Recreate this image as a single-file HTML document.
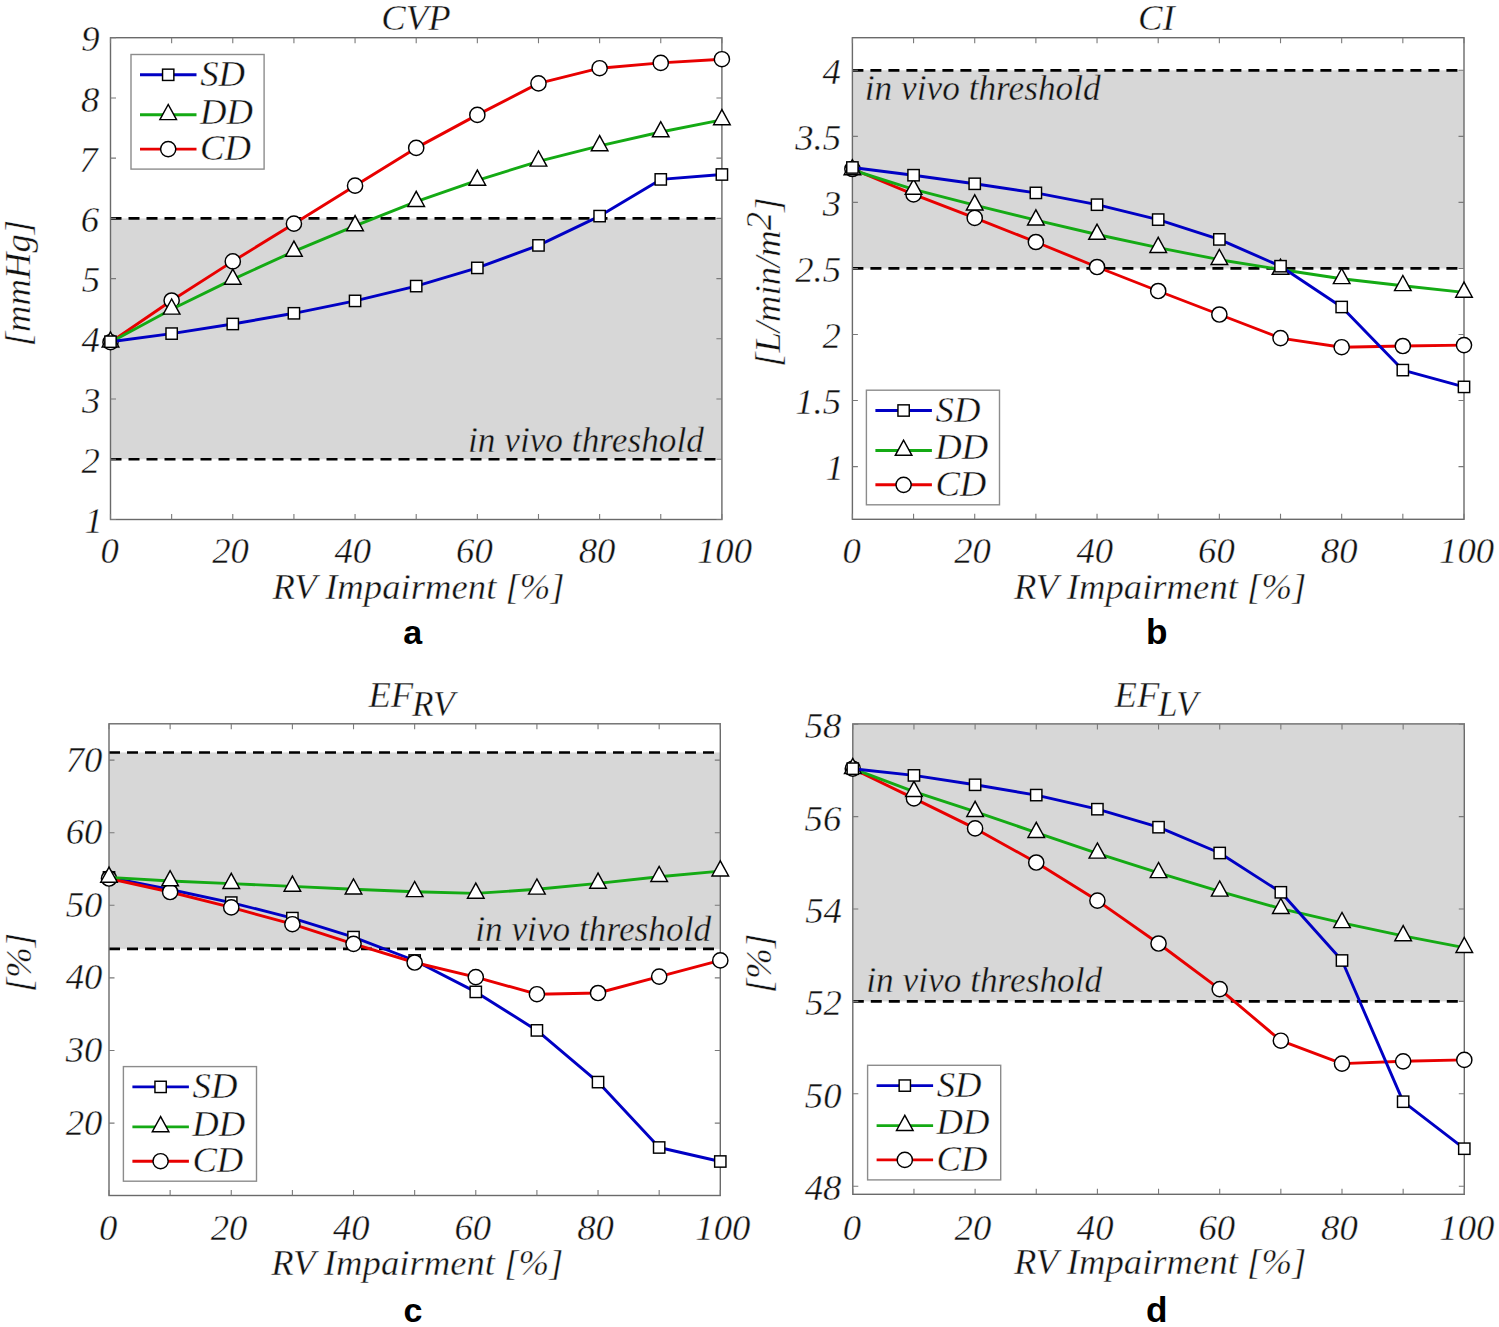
<!DOCTYPE html><html><head><meta charset="utf-8"><style>
html,body{margin:0;padding:0;background:#fff;overflow:hidden;}
svg{display:block;}
text{font-family:"Liberation Serif",serif;font-style:italic;fill:#111;stroke:#fff;stroke-width:0.4px;}
text.g{stroke:#d7d7d7;}
.sub{font-family:"Liberation Sans",sans-serif;font-style:normal;font-weight:bold;fill:#000;stroke:none;}
.mk{fill:#fff;stroke:#000;stroke-width:1.45;}
</style></head><body>
<svg width="1499" height="1327" viewBox="0 0 1499 1327">
<rect width="1499" height="1327" fill="#fff"/>
<rect x="110.5" y="218.38" width="611.4" height="240.9" fill="#d7d7d7"/>
<line x1="110.5" y1="218.38" x2="721.9" y2="218.38" stroke="#000" stroke-width="2.7" stroke-dasharray="11 7"/>
<line x1="110.5" y1="459.27" x2="721.9" y2="459.27" stroke="#000" stroke-width="2.7" stroke-dasharray="11 7"/>
<rect x="110.5" y="37.7" width="611.4" height="481.8" fill="none" stroke="#6a6a6a" stroke-width="1.4"/>
<path d="M110.5 519.5v-5.5M110.5 37.7v5.5M171.64 519.5v-5.5M171.64 37.7v5.5M232.78 519.5v-5.5M232.78 37.7v5.5M293.92 519.5v-5.5M293.92 37.7v5.5M355.06 519.5v-5.5M355.06 37.7v5.5M416.2 519.5v-5.5M416.2 37.7v5.5M477.34 519.5v-5.5M477.34 37.7v5.5M538.48 519.5v-5.5M538.48 37.7v5.5M599.62 519.5v-5.5M599.62 37.7v5.5M660.76 519.5v-5.5M660.76 37.7v5.5M721.9 519.5v-5.5M721.9 37.7v5.5M110.5 519.5h5.5M721.9 519.5h-5.5M110.5 459.27h5.5M721.9 459.27h-5.5M110.5 399.05h5.5M721.9 399.05h-5.5M110.5 338.82h5.5M721.9 338.82h-5.5M110.5 278.6h5.5M721.9 278.6h-5.5M110.5 218.38h5.5M721.9 218.38h-5.5M110.5 158.15h5.5M721.9 158.15h-5.5M110.5 97.93h5.5M721.9 97.93h-5.5M110.5 37.7h5.5M721.9 37.7h-5.5" stroke="#7a7a7a" stroke-width="1.1" fill="none"/>
<text x="84.6" y="533.21" font-size="36.7">1</text>
<text x="81.48" y="473.03" font-size="36.7">2</text>
<text x="81.93" y="412.62" font-size="36.7">3</text>
<text x="81.48" y="352.49" font-size="36.7">4</text>
<text x="81.75" y="292.04" font-size="36.7">5</text>
<text x="80.83" y="231.95" font-size="36.7">6</text>
<text x="79.37" y="171.77" font-size="36.7">7</text>
<text x="81.02" y="111.54" font-size="36.7">8</text>
<text x="81.2" y="51.27" font-size="36.7">9</text>
<text x="100.57" y="563.3" font-size="36.7">0</text>
<text x="212.26" y="563.3" font-size="36.7">20</text>
<text x="334.49" y="563.3" font-size="36.7">40</text>
<text x="456.09" y="563.3" font-size="36.7">60</text>
<text x="578.73" y="563.3" font-size="36.7">80</text>
<text x="696.96" y="563.3" font-size="36.7">100</text>
<polyline points="110.5,342.2 171.64,300.5 232.78,261.4 293.92,223.7 355.06,185.7 416.2,147.9 477.34,114.9 538.48,83.4 599.62,68.2 660.76,62.9 721.9,59.2" fill="none" stroke="#e80000" stroke-width="2.9" stroke-linejoin="round"/>
<circle cx="110.5" cy="342.2" r="7.6" class="mk"/>
<circle cx="171.64" cy="300.5" r="7.6" class="mk"/>
<circle cx="232.78" cy="261.4" r="7.6" class="mk"/>
<circle cx="293.92" cy="223.7" r="7.6" class="mk"/>
<circle cx="355.06" cy="185.7" r="7.6" class="mk"/>
<circle cx="416.2" cy="147.9" r="7.6" class="mk"/>
<circle cx="477.34" cy="114.9" r="7.6" class="mk"/>
<circle cx="538.48" cy="83.4" r="7.6" class="mk"/>
<circle cx="599.62" cy="68.2" r="7.6" class="mk"/>
<circle cx="660.76" cy="62.9" r="7.6" class="mk"/>
<circle cx="721.9" cy="59.2" r="7.6" class="mk"/>
<polyline points="110.5,342.2 171.64,309.3 232.78,279.4 293.92,251.4 355.06,225.9 416.2,201.6 477.34,180.4 538.48,161.3 599.62,145.9 660.76,132 721.9,119.9" fill="none" stroke="#14aa14" stroke-width="2.9" stroke-linejoin="round"/>
<polygon points="110.5,331.9 102.2,347 118.8,347" class="mk"/>
<polygon points="171.64,299 163.34,314.1 179.94,314.1" class="mk"/>
<polygon points="232.78,269.1 224.48,284.2 241.08,284.2" class="mk"/>
<polygon points="293.92,241.1 285.62,256.2 302.22,256.2" class="mk"/>
<polygon points="355.06,215.6 346.76,230.7 363.36,230.7" class="mk"/>
<polygon points="416.2,191.3 407.9,206.4 424.5,206.4" class="mk"/>
<polygon points="477.34,170.1 469.04,185.2 485.64,185.2" class="mk"/>
<polygon points="538.48,151 530.18,166.1 546.78,166.1" class="mk"/>
<polygon points="599.62,135.6 591.32,150.7 607.92,150.7" class="mk"/>
<polygon points="660.76,121.7 652.46,136.8 669.06,136.8" class="mk"/>
<polygon points="721.9,109.6 713.6,124.7 730.2,124.7" class="mk"/>
<polyline points="110.5,341.7 171.64,333.6 232.78,324 293.92,313.3 355.06,300.9 416.2,286.1 477.34,267.9 538.48,245.4 599.62,216.1 660.76,179.4 721.9,174.5" fill="none" stroke="#0000c4" stroke-width="2.9" stroke-linejoin="round"/>
<rect x="104.85" y="336.05" width="11.3" height="11.3" class="mk"/>
<rect x="165.99" y="327.95" width="11.3" height="11.3" class="mk"/>
<rect x="227.13" y="318.35" width="11.3" height="11.3" class="mk"/>
<rect x="288.27" y="307.65" width="11.3" height="11.3" class="mk"/>
<rect x="349.41" y="295.25" width="11.3" height="11.3" class="mk"/>
<rect x="410.55" y="280.45" width="11.3" height="11.3" class="mk"/>
<rect x="471.69" y="262.25" width="11.3" height="11.3" class="mk"/>
<rect x="532.83" y="239.75" width="11.3" height="11.3" class="mk"/>
<rect x="593.97" y="210.45" width="11.3" height="11.3" class="mk"/>
<rect x="655.11" y="173.75" width="11.3" height="11.3" class="mk"/>
<rect x="716.25" y="168.85" width="11.3" height="11.3" class="mk"/>
<rect x="852.4" y="70.3" width="611.6" height="198.15" fill="#d7d7d7"/>
<line x1="852.4" y1="70.3" x2="1464" y2="70.3" stroke="#000" stroke-width="2.7" stroke-dasharray="11 7"/>
<line x1="852.4" y1="268.45" x2="1464" y2="268.45" stroke="#000" stroke-width="2.7" stroke-dasharray="11 7"/>
<rect x="852.4" y="37.7" width="611.6" height="481.6" fill="none" stroke="#6a6a6a" stroke-width="1.4"/>
<path d="M852.4 519.3v-5.5M852.4 37.7v5.5M913.56 519.3v-5.5M913.56 37.7v5.5M974.72 519.3v-5.5M974.72 37.7v5.5M1035.88 519.3v-5.5M1035.88 37.7v5.5M1097.04 519.3v-5.5M1097.04 37.7v5.5M1158.2 519.3v-5.5M1158.2 37.7v5.5M1219.36 519.3v-5.5M1219.36 37.7v5.5M1280.52 519.3v-5.5M1280.52 37.7v5.5M1341.68 519.3v-5.5M1341.68 37.7v5.5M1402.84 519.3v-5.5M1402.84 37.7v5.5M1464 519.3v-5.5M1464 37.7v5.5M852.4 466.6h5.5M1464 466.6h-5.5M852.4 400.55h5.5M1464 400.55h-5.5M852.4 334.5h5.5M1464 334.5h-5.5M852.4 268.45h5.5M1464 268.45h-5.5M852.4 202.4h5.5M1464 202.4h-5.5M852.4 136.35h5.5M1464 136.35h-5.5M852.4 70.3h5.5M1464 70.3h-5.5" stroke="#7a7a7a" stroke-width="1.1" fill="none"/>
<text x="825.5" y="480.31" font-size="36.7">1</text>
<text x="795.13" y="413.99" font-size="36.7">1.5</text>
<text x="822.38" y="348.26" font-size="36.7">2</text>
<text x="795.13" y="281.93" font-size="36.7">2.5</text>
<text x="822.83" y="215.97" font-size="36.7">3</text>
<text x="795.13" y="149.83" font-size="36.7">3.5</text>
<text x="822.38" y="83.97" font-size="36.7">4</text>
<text x="842.47" y="563.3" font-size="36.7">0</text>
<text x="954.2" y="563.3" font-size="36.7">20</text>
<text x="1076.47" y="563.3" font-size="36.7">40</text>
<text x="1198.11" y="563.3" font-size="36.7">60</text>
<text x="1320.79" y="563.3" font-size="36.7">80</text>
<text x="1439.06" y="563.3" font-size="36.7">100</text>
<polyline points="852.4,169 913.56,194.4 974.72,217.9 1035.88,242 1097.04,267 1158.2,291 1219.36,314.5 1280.52,338.1 1341.68,347.2 1402.84,346 1464,345.1" fill="none" stroke="#e80000" stroke-width="2.9" stroke-linejoin="round"/>
<circle cx="852.4" cy="169" r="7.6" class="mk"/>
<circle cx="913.56" cy="194.4" r="7.6" class="mk"/>
<circle cx="974.72" cy="217.9" r="7.6" class="mk"/>
<circle cx="1035.88" cy="242" r="7.6" class="mk"/>
<circle cx="1097.04" cy="267" r="7.6" class="mk"/>
<circle cx="1158.2" cy="291" r="7.6" class="mk"/>
<circle cx="1219.36" cy="314.5" r="7.6" class="mk"/>
<circle cx="1280.52" cy="338.1" r="7.6" class="mk"/>
<circle cx="1341.68" cy="347.2" r="7.6" class="mk"/>
<circle cx="1402.84" cy="346" r="7.6" class="mk"/>
<circle cx="1464" cy="345.1" r="7.6" class="mk"/>
<polyline points="852.4,170 913.56,189.4 974.72,205.1 1035.88,220.1 1097.04,234.5 1158.2,247.6 1219.36,259.7 1280.52,269.5 1341.68,278.8 1402.84,285.8 1464,292.4" fill="none" stroke="#14aa14" stroke-width="2.9" stroke-linejoin="round"/>
<polygon points="852.4,159.7 844.1,174.8 860.7,174.8" class="mk"/>
<polygon points="913.56,179.1 905.26,194.2 921.86,194.2" class="mk"/>
<polygon points="974.72,194.8 966.42,209.9 983.02,209.9" class="mk"/>
<polygon points="1035.88,209.8 1027.58,224.9 1044.18,224.9" class="mk"/>
<polygon points="1097.04,224.2 1088.74,239.3 1105.34,239.3" class="mk"/>
<polygon points="1158.2,237.3 1149.9,252.4 1166.5,252.4" class="mk"/>
<polygon points="1219.36,249.4 1211.06,264.5 1227.66,264.5" class="mk"/>
<polygon points="1280.52,259.2 1272.22,274.3 1288.82,274.3" class="mk"/>
<polygon points="1341.68,268.5 1333.38,283.6 1349.98,283.6" class="mk"/>
<polygon points="1402.84,275.5 1394.54,290.6 1411.14,290.6" class="mk"/>
<polygon points="1464,282.1 1455.7,297.2 1472.3,297.2" class="mk"/>
<polyline points="852.4,167.5 913.56,175.2 974.72,183.8 1035.88,192.9 1097.04,204.7 1158.2,219.6 1219.36,239.4 1280.52,266.2 1341.68,307 1402.84,370.1 1464,386.9" fill="none" stroke="#0000c4" stroke-width="2.9" stroke-linejoin="round"/>
<rect x="846.75" y="161.85" width="11.3" height="11.3" class="mk"/>
<rect x="907.91" y="169.55" width="11.3" height="11.3" class="mk"/>
<rect x="969.07" y="178.15" width="11.3" height="11.3" class="mk"/>
<rect x="1030.23" y="187.25" width="11.3" height="11.3" class="mk"/>
<rect x="1091.39" y="199.05" width="11.3" height="11.3" class="mk"/>
<rect x="1152.55" y="213.95" width="11.3" height="11.3" class="mk"/>
<rect x="1213.71" y="233.75" width="11.3" height="11.3" class="mk"/>
<rect x="1274.87" y="260.55" width="11.3" height="11.3" class="mk"/>
<rect x="1336.03" y="301.35" width="11.3" height="11.3" class="mk"/>
<rect x="1397.19" y="364.45" width="11.3" height="11.3" class="mk"/>
<rect x="1458.35" y="381.25" width="11.3" height="11.3" class="mk"/>
<rect x="109" y="752.48" width="611.3" height="196.38" fill="#d7d7d7"/>
<line x1="109" y1="752.48" x2="720.3" y2="752.48" stroke="#000" stroke-width="2.7" stroke-dasharray="11 7"/>
<line x1="109" y1="948.86" x2="720.3" y2="948.86" stroke="#000" stroke-width="2.7" stroke-dasharray="11 7"/>
<rect x="109" y="723.8" width="611.3" height="471.7" fill="none" stroke="#6a6a6a" stroke-width="1.4"/>
<path d="M109 1195.5v-5.5M109 723.8v5.5M170.13 1195.5v-5.5M170.13 723.8v5.5M231.26 1195.5v-5.5M231.26 723.8v5.5M292.39 1195.5v-5.5M292.39 723.8v5.5M353.52 1195.5v-5.5M353.52 723.8v5.5M414.65 1195.5v-5.5M414.65 723.8v5.5M475.78 1195.5v-5.5M475.78 723.8v5.5M536.91 1195.5v-5.5M536.91 723.8v5.5M598.04 1195.5v-5.5M598.04 723.8v5.5M659.17 1195.5v-5.5M659.17 723.8v5.5M720.3 1195.5v-5.5M720.3 723.8v5.5M109 1123.1h5.5M720.3 1123.1h-5.5M109 1050.5h5.5M720.3 1050.5h-5.5M109 977.9h5.5M720.3 977.9h-5.5M109 905.3h5.5M720.3 905.3h-5.5M109 832.7h5.5M720.3 832.7h-5.5M109 760.1h5.5M720.3 760.1h-5.5" stroke="#7a7a7a" stroke-width="1.1" fill="none"/>
<text x="65.76" y="1134.62" font-size="36.7">20</text>
<text x="65.76" y="1062.02" font-size="36.7">30</text>
<text x="65.76" y="989.42" font-size="36.7">40</text>
<text x="65.76" y="916.82" font-size="36.7">50</text>
<text x="65.76" y="844.22" font-size="36.7">60</text>
<text x="65.76" y="771.62" font-size="36.7">70</text>
<text x="99.07" y="1239.8" font-size="36.7">0</text>
<text x="210.74" y="1239.8" font-size="36.7">20</text>
<text x="332.95" y="1239.8" font-size="36.7">40</text>
<text x="454.53" y="1239.8" font-size="36.7">60</text>
<text x="577.15" y="1239.8" font-size="36.7">80</text>
<text x="695.36" y="1239.8" font-size="36.7">100</text>
<polyline points="109,877.4 170.13,889.5 231.26,902.6 292.39,918.1 353.52,937.1 414.65,960.5 475.78,991.9 536.91,1030.4 598.04,1082.1 659.17,1147.5 720.3,1161.5" fill="none" stroke="#0000c4" stroke-width="2.9" stroke-linejoin="round"/>
<rect x="103.35" y="871.75" width="11.3" height="11.3" class="mk"/>
<rect x="164.48" y="883.85" width="11.3" height="11.3" class="mk"/>
<rect x="225.61" y="896.95" width="11.3" height="11.3" class="mk"/>
<rect x="286.74" y="912.45" width="11.3" height="11.3" class="mk"/>
<rect x="347.87" y="931.45" width="11.3" height="11.3" class="mk"/>
<rect x="409" y="954.85" width="11.3" height="11.3" class="mk"/>
<rect x="470.13" y="986.25" width="11.3" height="11.3" class="mk"/>
<rect x="531.26" y="1024.75" width="11.3" height="11.3" class="mk"/>
<rect x="592.39" y="1076.45" width="11.3" height="11.3" class="mk"/>
<rect x="653.52" y="1141.85" width="11.3" height="11.3" class="mk"/>
<rect x="714.65" y="1155.85" width="11.3" height="11.3" class="mk"/>
<polyline points="109,878.5 170.13,892 231.26,907.4 292.39,924.2 353.52,943.8 414.65,962.5 475.78,977.1 536.91,994.2 598.04,993 659.17,976.6 720.3,960.4" fill="none" stroke="#e80000" stroke-width="2.9" stroke-linejoin="round"/>
<circle cx="109" cy="878.5" r="7.6" class="mk"/>
<circle cx="170.13" cy="892" r="7.6" class="mk"/>
<circle cx="231.26" cy="907.4" r="7.6" class="mk"/>
<circle cx="292.39" cy="924.2" r="7.6" class="mk"/>
<circle cx="353.52" cy="943.8" r="7.6" class="mk"/>
<circle cx="414.65" cy="962.5" r="7.6" class="mk"/>
<circle cx="475.78" cy="977.1" r="7.6" class="mk"/>
<circle cx="536.91" cy="994.2" r="7.6" class="mk"/>
<circle cx="598.04" cy="993" r="7.6" class="mk"/>
<circle cx="659.17" cy="976.6" r="7.6" class="mk"/>
<circle cx="720.3" cy="960.4" r="7.6" class="mk"/>
<polyline points="109,877.4 170.13,881 231.26,883.6 292.39,886.4 353.52,889.2 414.65,891.8 475.78,893.4 536.91,889.3 598.04,883.4 659.17,876.7 720.3,871.1" fill="none" stroke="#14aa14" stroke-width="2.9" stroke-linejoin="round"/>
<polygon points="109,867.1 100.7,882.2 117.3,882.2" class="mk"/>
<polygon points="170.13,870.7 161.83,885.8 178.43,885.8" class="mk"/>
<polygon points="231.26,873.3 222.96,888.4 239.56,888.4" class="mk"/>
<polygon points="292.39,876.1 284.09,891.2 300.69,891.2" class="mk"/>
<polygon points="353.52,878.9 345.22,894 361.82,894" class="mk"/>
<polygon points="414.65,881.5 406.35,896.6 422.95,896.6" class="mk"/>
<polygon points="475.78,883.1 467.48,898.2 484.08,898.2" class="mk"/>
<polygon points="536.91,879 528.61,894.1 545.21,894.1" class="mk"/>
<polygon points="598.04,873.1 589.74,888.2 606.34,888.2" class="mk"/>
<polygon points="659.17,866.4 650.87,881.5 667.47,881.5" class="mk"/>
<polygon points="720.3,860.8 712,875.9 728.6,875.9" class="mk"/>
<rect x="852.8" y="724.2" width="611.5" height="277.2" fill="#d7d7d7"/>
<line x1="852.8" y1="1001.4" x2="1464.3" y2="1001.4" stroke="#000" stroke-width="2.7" stroke-dasharray="11 7"/>
<rect x="852.8" y="723.9" width="611.5" height="470.4" fill="none" stroke="#6a6a6a" stroke-width="1.4"/>
<path d="M852.8 1194.3v-5.5M852.8 723.9v5.5M913.95 1194.3v-5.5M913.95 723.9v5.5M975.1 1194.3v-5.5M975.1 723.9v5.5M1036.25 1194.3v-5.5M1036.25 723.9v5.5M1097.4 1194.3v-5.5M1097.4 723.9v5.5M1158.55 1194.3v-5.5M1158.55 723.9v5.5M1219.7 1194.3v-5.5M1219.7 723.9v5.5M1280.85 1194.3v-5.5M1280.85 723.9v5.5M1342 1194.3v-5.5M1342 723.9v5.5M1403.15 1194.3v-5.5M1403.15 723.9v5.5M1464.3 1194.3v-5.5M1464.3 723.9v5.5M852.8 1186.2h5.5M1464.3 1186.2h-5.5M852.8 1093.8h5.5M1464.3 1093.8h-5.5M852.8 1001.4h5.5M1464.3 1001.4h-5.5M852.8 909h5.5M1464.3 909h-5.5M852.8 816.6h5.5M1464.3 816.6h-5.5M852.8 724.2h5.5M1464.3 724.2h-5.5" stroke="#7a7a7a" stroke-width="1.1" fill="none"/>
<text x="804.77" y="1200.32" font-size="36.7">48</text>
<text x="804.86" y="1107.92" font-size="36.7">50</text>
<text x="805.23" y="1015.47" font-size="36.7">52</text>
<text x="805.23" y="922.98" font-size="36.7">54</text>
<text x="804.58" y="830.67" font-size="36.7">56</text>
<text x="804.77" y="738.32" font-size="36.7">58</text>
<text x="842.87" y="1239.8" font-size="36.7">0</text>
<text x="954.58" y="1239.8" font-size="36.7">20</text>
<text x="1076.83" y="1239.8" font-size="36.7">40</text>
<text x="1198.45" y="1239.8" font-size="36.7">60</text>
<text x="1321.11" y="1239.8" font-size="36.7">80</text>
<text x="1439.36" y="1239.8" font-size="36.7">100</text>
<polyline points="852.8,768.7 913.95,798.4 975.1,828.4 1036.25,862.5 1097.4,900.6 1158.55,943.5 1219.7,989.1 1280.85,1040.7 1342,1063.6 1403.15,1061.3 1464.3,1059.9" fill="none" stroke="#e80000" stroke-width="2.9" stroke-linejoin="round"/>
<circle cx="852.8" cy="768.7" r="7.6" class="mk"/>
<circle cx="913.95" cy="798.4" r="7.6" class="mk"/>
<circle cx="975.1" cy="828.4" r="7.6" class="mk"/>
<circle cx="1036.25" cy="862.5" r="7.6" class="mk"/>
<circle cx="1097.4" cy="900.6" r="7.6" class="mk"/>
<circle cx="1158.55" cy="943.5" r="7.6" class="mk"/>
<circle cx="1219.7" cy="989.1" r="7.6" class="mk"/>
<circle cx="1280.85" cy="1040.7" r="7.6" class="mk"/>
<circle cx="1342" cy="1063.6" r="7.6" class="mk"/>
<circle cx="1403.15" cy="1061.3" r="7.6" class="mk"/>
<circle cx="1464.3" cy="1059.9" r="7.6" class="mk"/>
<polyline points="852.8,768.7 913.95,791.6 975.1,811.6 1036.25,832.6 1097.4,853.3 1158.55,872.8 1219.7,891.3 1280.85,908.7 1342,922.8 1403.15,935.9 1464.3,947.7" fill="none" stroke="#14aa14" stroke-width="2.9" stroke-linejoin="round"/>
<polygon points="852.8,758.4 844.5,773.5 861.1,773.5" class="mk"/>
<polygon points="913.95,781.3 905.65,796.4 922.25,796.4" class="mk"/>
<polygon points="975.1,801.3 966.8,816.4 983.4,816.4" class="mk"/>
<polygon points="1036.25,822.3 1027.95,837.4 1044.55,837.4" class="mk"/>
<polygon points="1097.4,843 1089.1,858.1 1105.7,858.1" class="mk"/>
<polygon points="1158.55,862.5 1150.25,877.6 1166.85,877.6" class="mk"/>
<polygon points="1219.7,881 1211.4,896.1 1228,896.1" class="mk"/>
<polygon points="1280.85,898.4 1272.55,913.5 1289.15,913.5" class="mk"/>
<polygon points="1342,912.5 1333.7,927.6 1350.3,927.6" class="mk"/>
<polygon points="1403.15,925.6 1394.85,940.7 1411.45,940.7" class="mk"/>
<polygon points="1464.3,937.4 1456,952.5 1472.6,952.5" class="mk"/>
<polyline points="852.8,768.7 913.95,775.4 975.1,784.8 1036.25,795.1 1097.4,809.2 1158.55,827.2 1219.7,853 1280.85,892.3 1342,960.5 1403.15,1101.7 1464.3,1148.7" fill="none" stroke="#0000c4" stroke-width="2.9" stroke-linejoin="round"/>
<rect x="847.15" y="763.05" width="11.3" height="11.3" class="mk"/>
<rect x="908.3" y="769.75" width="11.3" height="11.3" class="mk"/>
<rect x="969.45" y="779.15" width="11.3" height="11.3" class="mk"/>
<rect x="1030.6" y="789.45" width="11.3" height="11.3" class="mk"/>
<rect x="1091.75" y="803.55" width="11.3" height="11.3" class="mk"/>
<rect x="1152.9" y="821.55" width="11.3" height="11.3" class="mk"/>
<rect x="1214.05" y="847.35" width="11.3" height="11.3" class="mk"/>
<rect x="1275.2" y="886.65" width="11.3" height="11.3" class="mk"/>
<rect x="1336.35" y="954.85" width="11.3" height="11.3" class="mk"/>
<rect x="1397.5" y="1096.05" width="11.3" height="11.3" class="mk"/>
<rect x="1458.65" y="1143.05" width="11.3" height="11.3" class="mk"/>
<text x="381.28" y="29.7" font-size="36.7">CVP</text>
<text x="1137.98" y="29.6" font-size="36.7">CI</text>
<text x="368.46" y="706.9" font-size="36.7">EF</text>
<text x="412.08" y="715.8" font-size="35.3">RV</text>
<text x="1114.56" y="706.9" font-size="36.7">EF</text>
<text x="1157.94" y="715.8" font-size="35.3">LV</text>
<text x="272.48" y="599" font-size="36.7">RV Impairment [%]</text>
<text x="1014.08" y="598.6" font-size="36.7">RV Impairment [%]</text>
<text x="271.18" y="1274.5" font-size="36.7">RV Impairment [%]</text>
<text x="1014.08" y="1274.3" font-size="36.7">RV Impairment [%]</text>
<text x="467.96" y="451.9" font-size="35.3" class="g">in vivo threshold</text>
<text x="864.76" y="99.6" font-size="35.3" class="g">in vivo threshold</text>
<text x="475.16" y="941" font-size="35.3" class="g">in vivo threshold</text>
<text x="866.26" y="992.4" font-size="35.3" class="g">in vivo threshold</text>
<text transform="translate(29.6,346.31) rotate(-90)" font-size="36.7">[mmHg]</text>
<text transform="translate(779.6,366.81) rotate(-90)" font-size="36.7">[L/min/m<tspan dy="-9">2</tspan><tspan dy="9">]</tspan></text>
<text transform="translate(31.2,992.01) rotate(-90)" font-size="36.7">[%]</text>
<text transform="translate(770.6,992.91) rotate(-90)" font-size="36.7">[%]</text>
<rect x="131" y="54.5" width="133.1" height="114.6" fill="#fff" stroke="#8c8c8c" stroke-width="1.4"/>
<line x1="140" y1="74.8" x2="196.5" y2="74.8" stroke="#0000c4" stroke-width="2.9"/>
<rect x="162.55" y="69.15" width="11.3" height="11.3" class="mk"/>
<line x1="140" y1="114.8" x2="196.5" y2="114.8" stroke="#14aa14" stroke-width="2.9"/>
<polygon points="168.2,104.5 159.9,119.6 176.5,119.6" class="mk"/>
<line x1="140" y1="149.1" x2="196.5" y2="149.1" stroke="#e80000" stroke-width="2.9"/>
<circle cx="168.2" cy="149.1" r="7.6" class="mk"/>
<text x="200.14" y="86" font-size="36.7">SD</text>
<text x="199.97" y="123.5" font-size="36.7">DD</text>
<text x="199.98" y="160" font-size="36.7">CD</text>
<rect x="866.4" y="390.2" width="133.1" height="114.6" fill="#fff" stroke="#8c8c8c" stroke-width="1.4"/>
<line x1="875.4" y1="410.5" x2="931.9" y2="410.5" stroke="#0000c4" stroke-width="2.9"/>
<rect x="897.95" y="404.85" width="11.3" height="11.3" class="mk"/>
<line x1="875.4" y1="450.5" x2="931.9" y2="450.5" stroke="#14aa14" stroke-width="2.9"/>
<polygon points="903.6,440.2 895.3,455.3 911.9,455.3" class="mk"/>
<line x1="875.4" y1="484.8" x2="931.9" y2="484.8" stroke="#e80000" stroke-width="2.9"/>
<circle cx="903.6" cy="484.8" r="7.6" class="mk"/>
<text x="935.54" y="421.7" font-size="36.7">SD</text>
<text x="935.37" y="459.2" font-size="36.7">DD</text>
<text x="935.38" y="495.7" font-size="36.7">CD</text>
<rect x="123.4" y="1066.6" width="133.1" height="114.6" fill="#fff" stroke="#8c8c8c" stroke-width="1.4"/>
<line x1="132.4" y1="1086.9" x2="188.9" y2="1086.9" stroke="#0000c4" stroke-width="2.9"/>
<rect x="154.95" y="1081.25" width="11.3" height="11.3" class="mk"/>
<line x1="132.4" y1="1126.9" x2="188.9" y2="1126.9" stroke="#14aa14" stroke-width="2.9"/>
<polygon points="160.6,1116.6 152.3,1131.7 168.9,1131.7" class="mk"/>
<line x1="132.4" y1="1161.2" x2="188.9" y2="1161.2" stroke="#e80000" stroke-width="2.9"/>
<circle cx="160.6" cy="1161.2" r="7.6" class="mk"/>
<text x="192.54" y="1098.1" font-size="36.7">SD</text>
<text x="192.37" y="1135.6" font-size="36.7">DD</text>
<text x="192.38" y="1172.1" font-size="36.7">CD</text>
<rect x="867.6" y="1065.3" width="133.1" height="114.6" fill="#fff" stroke="#8c8c8c" stroke-width="1.4"/>
<line x1="876.6" y1="1085.6" x2="933.1" y2="1085.6" stroke="#0000c4" stroke-width="2.9"/>
<rect x="899.15" y="1079.95" width="11.3" height="11.3" class="mk"/>
<line x1="876.6" y1="1125.6" x2="933.1" y2="1125.6" stroke="#14aa14" stroke-width="2.9"/>
<polygon points="904.8,1115.3 896.5,1130.4 913.1,1130.4" class="mk"/>
<line x1="876.6" y1="1159.9" x2="933.1" y2="1159.9" stroke="#e80000" stroke-width="2.9"/>
<circle cx="904.8" cy="1159.9" r="7.6" class="mk"/>
<text x="936.74" y="1096.8" font-size="36.7">SD</text>
<text x="936.57" y="1134.3" font-size="36.7">DD</text>
<text x="936.58" y="1170.8" font-size="36.7">CD</text>
<text class="sub" x="412.7" y="644.3" font-size="34" text-anchor="middle">a</text>
<text class="sub" x="1156.7" y="644.4" font-size="35.2" text-anchor="middle">b</text>
<text class="sub" x="413" y="1322" font-size="34" text-anchor="middle">c</text>
<text class="sub" x="1156.7" y="1322.2" font-size="35.2" text-anchor="middle">d</text>
</svg></body></html>
